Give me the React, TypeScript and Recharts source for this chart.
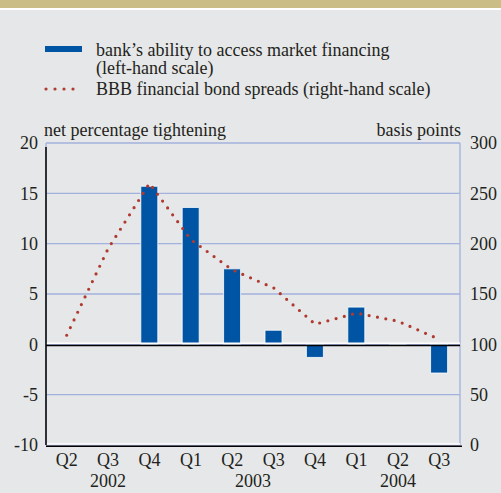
import { ComposedChart, Bar, Line, XAxis, YAxis, CartesianGrid, ReferenceLine } from 'recharts'

const quarters = ['Q2', 'Q3', 'Q4', 'Q1', 'Q2', 'Q3', 'Q4', 'Q1', 'Q2', 'Q3']
const years = ['2002', '2002', '2002', '2003', '2003', '2003', '2003', '2004', '2004', '2004']
// net percentage tightening (left-hand scale)
const marketAccess = [null, null, 15.7, 13.6, 7.5, 1.4, -1.3, 3.7, 0.15, -2.85]
// BBB financial bond spreads, basis points (right-hand scale)
const bbbSpreads = [109, 195, 260, 204, 174, 156, 120, 131, 123, 105]
const leftTicks = [-10, -5, 0, 5, 10, 15, 20]
const rightTicks = [0, 50, 100, 150, 200, 250, 300]

const FONT = '"Liberation Serif", "Times New Roman", serif'
const FS = 18
const INK = '#231f20'
const BLUE = '#0054a4'
const RED = '#b13a30'
const GRID = '#a3b1dd'

const chartData = quarters.map((q, i) => ({
  quarter: q,
  access: marketAccess[i],
  bbb: bbbSpreads[i],
}))

// boundaries between quarters, for grid lines and tick marks
const boundaries = quarters.map((_, i) => i).concat(quarters.length)

// each year label sits under the middle of its quarters
const yearLabels: { year: string; mid: number }[] = []
years.forEach((y, i) => {
  const first = years.indexOf(y)
  const last = years.lastIndexOf(y)
  if (i === first) yearLabels.push({ year: y, mid: (first + last + 1) / 2 })
})

const tickStyle = { fontSize: FS, fill: INK, fontFamily: FONT }

function QuarterTick(props: any) {
  const { x, y, payload } = props
  const idx: number = payload.index
  const band = payload.offset ? payload.offset * 2 : 41.4
  const yl = yearLabels.find(l => Math.floor(l.mid - 0.01) === idx)
  return (
    <g>
      <text x={x} y={y} dy="0.71em" textAnchor="middle" {...tickStyle}>
        {payload.value}
      </text>
      {yl && (
        <text x={x + (yl.mid - (idx + 0.5)) * band} y={y + 21.5} dy="0.71em" textAnchor="middle" {...tickStyle}>
          {yl.year}
        </text>
      )}
    </g>
  )
}

function ZeroLine(p: any) {
  return (
    <g>
      <line x1={p.x1} x2={p.x2} y1={p.y1 - 1} y2={p.y2 - 1} stroke="#fff" strokeWidth={1.5} />
      <line x1={p.x1} x2={p.x2} y1={p.y1 + 1.2} y2={p.y2 + 1.2} stroke="#000" strokeWidth={1.6} />
    </g>
  )
}

function BottomFrame(p: any) {
  return (
    <g>
      <line x1={p.x1} x2={p.x2} y1={p.y1 - 1} y2={p.y2 - 1} stroke="#fff" strokeWidth={1.5} />
      <line x1={p.x1} x2={p.x2 + 2} y1={p.y1 + 1.3} y2={p.y2 + 1.3} stroke="#000" strokeWidth={1.5} />
    </g>
  )
}

function RightFrame(p: any) {
  return (
    <g>
      <line x1={p.x1 - 1} x2={p.x2 - 1} y1={p.y1} y2={p.y2} stroke="#fff" strokeWidth={1.5} />
      <line x1={p.x1 + 1.3} x2={p.x2 + 1.3} y1={p.y1} y2={p.y2 + 5.5} stroke="#000" strokeWidth={1.5} />
    </g>
  )
}

function LeftFrame(p: any) {
  return <line x1={p.x1} x2={p.x2} y1={p.y1} y2={p.y2 + 4} stroke="#000" strokeWidth={1.5} />
}

export default function App() {
  return (
    <div
      style={{
        position: 'absolute',
        left: 0,
        top: 0,
        width: 501,
        height: 493,
        background: '#e6e7e8',
        fontFamily: FONT,
        fontSize: FS,
        lineHeight: '17px',
        color: INK,
        overflow: 'hidden',
      }}
    >
      <div style={{ position: 'absolute', left: 0, top: 0, width: 501, height: 8, background: '#cbbd86' }} />
      <div style={{ position: 'absolute', left: 0, top: 8, width: 501, height: 2, background: '#ffffff' }} />

      {/* legend */}
      <div style={{ position: 'absolute', left: 45, top: 46, width: 37, height: 6, background: BLUE }} />
      <div style={{ position: 'absolute', left: 96, top: 41.5, whiteSpace: 'nowrap' }}>
        bank’s ability to access market financing
      </div>
      <div style={{ position: 'absolute', left: 96, top: 59.5, whiteSpace: 'nowrap' }}>(left-hand scale)</div>
      <svg style={{ position: 'absolute', left: 42, top: 85 }} width={44} height={8}>
        <line x1={4} x2={40} y1={4} y2={4} stroke={RED} strokeWidth={3.2} strokeDasharray="0 9" strokeLinecap="round" />
      </svg>
      <div style={{ position: 'absolute', left: 96, top: 80.5, whiteSpace: 'nowrap' }}>
        BBB financial bond spreads (right-hand scale)
      </div>

      <div style={{ position: 'absolute', left: 44, top: 121.5, whiteSpace: 'nowrap' }}>net percentage tightening</div>
      <div style={{ position: 'absolute', right: 40, top: 121.5, whiteSpace: 'nowrap' }}>basis points</div>

      <div style={{ position: 'absolute', left: 0, top: 0 }}>
        <ComposedChart
          width={501}
          height={493}
          data={chartData}
          margin={{ top: 143, right: 4, bottom: 0, left: 6 }}
        >
          <CartesianGrid xAxisId="b" yAxisId="l" stroke={GRID} strokeWidth={1.3} />
          <XAxis
            xAxisId="b"
            type="number"
            domain={[0, quarters.length]}
            allowDataOverflow
            ticks={boundaries}
            interval={0}
            tick={false}
            tickLine={{ stroke: '#000', strokeWidth: 1.5 }}
            tickSize={5}
            axisLine={false}
            height={6}
          />
          <XAxis
            xAxisId="c"
            dataKey="quarter"
            interval={0}
            tickLine={false}
            axisLine={false}
            tickSize={0}
            tickMargin={2}
            tick={<QuarterTick />}
            height={42}
          />
          <YAxis
            yAxisId="l"
            domain={[-10, 20]}
            ticks={leftTicks}
            interval={0}
            tickLine={false}
            axisLine={false}
            tickSize={0}
            tickMargin={8}
            tick={tickStyle}
            width={40}
          />
          <YAxis
            yAxisId="r"
            orientation="right"
            domain={[0, 300]}
            ticks={rightTicks}
            interval={0}
            tickLine={false}
            axisLine={false}
            tickSize={0}
            tickMargin={10}
            tick={tickStyle}
            width={37}
          />
          <Bar
            xAxisId="c"
            yAxisId="l"
            dataKey="access"
            fill={BLUE}
            stroke="#ffffff"
            strokeWidth={0.8}
            barSize={17}
            isAnimationActive={false}
          />
          <ReferenceLine xAxisId="b" yAxisId="l" y={0} shape={ZeroLine} />
          <ReferenceLine xAxisId="b" yAxisId="l" y={-10} shape={BottomFrame} />
          <ReferenceLine xAxisId="b" yAxisId="l" x={quarters.length} shape={RightFrame} />
          <ReferenceLine xAxisId="b" yAxisId="l" x={0} shape={LeftFrame} />
          <Line
            xAxisId="c"
            yAxisId="r"
            type="linear"
            dataKey="bbb"
            stroke={RED}
            strokeWidth={3.2}
            strokeDasharray="0 8.5"
            strokeLinecap="round"
            dot={false}
            isAnimationActive={false}
          />
        </ComposedChart>
      </div>
    </div>
  )
}
